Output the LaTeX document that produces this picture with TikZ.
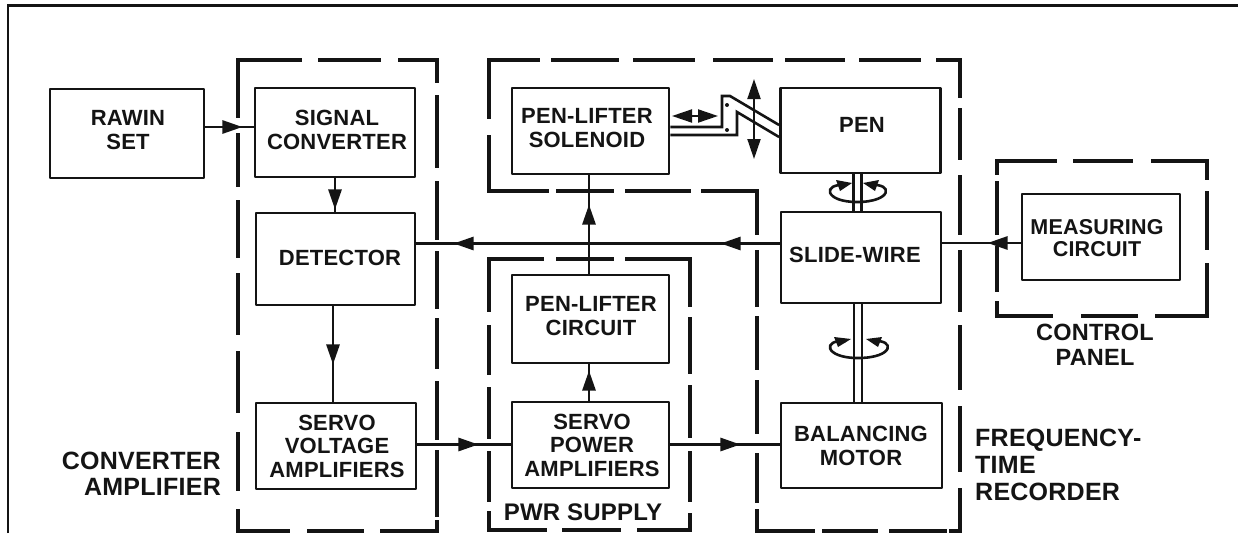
\documentclass[tikz,border=0pt]{standalone}
\usepackage{fontspec}
\setmainfont{Liberation Sans}[LetterSpace=1]
\usetikzlibrary{arrows.meta,decorations.markings}
\definecolor{ink}{HTML}{141414}
\tikzset{
  blk/.style={draw=ink,line width=2.9pt,rectangle,inner sep=0pt,line join=round},
  lbl/.style={text=ink,align=center,inner sep=0pt,font=\bfseries\fontsize{22}{23.5}\selectfont},
  dsh/.style={draw=ink,line width=3.3pt,line cap=rect},
  frm/.style={draw=ink,line width=2.4pt},
  wire/.style={draw=ink,line width=2.7pt},
  thin wire/.style={draw=ink,line width=2.6pt},
  flow/.style={wire,decoration={markings,mark=at position #1 with {\arrow{Triangle[length=20pt,width=13pt]}}},postaction={decorate}},
  flowtwo/.style 2 args={wire,decoration={markings,mark=at position #1 with {\arrow{Triangle[length=20pt,width=13pt]}},mark=at position #2 with {\arrow{Triangle[length=20pt,width=13pt]}}},postaction={decorate}},
  bothtip/.style={draw=ink,line width=2pt,{Triangle[length=20pt,width=13pt]}-{Triangle[length=20pt,width=13pt]}},
  rotsym/.style={draw=ink,line width=2.6pt},
  rottip/.style={fill=ink,draw=none},
}
\begin{document}
\begin{tikzpicture}[x=1pt,y=-1pt]
\useasboundingbox (0,0) rectangle (1238,533);
\fill[white] (0,0) rectangle (1238,533);
% outer frame
\draw[frm] (8,533) -- (8,5.5) -- (1238,5.5);
% dashed enclosures
% converter amplifier
\foreach \a/\b in {238/300,320/379,400/436} \draw[dsh] (\a,60) -- (\b,60);
\foreach \a/\b in {60/116,135/185,202/256,275/333,353/411,434/489,511/531} \draw[dsh] (238,\a) -- (238,\b);
\foreach \a/\b in {60/81,97/166,183/238,253/307,320/367,383/438,452/515,522/531} \draw[dsh] (437,\a) -- (437,\b);
\foreach \a/\b in {238/288,309/362,382/436} \draw[dsh] (\a,531) -- (\b,531);
% recorder
\foreach \a/\b in {489/538,553/617,635/693,715/771,787/843,861/919,938/960} \draw[dsh] (\a,60) -- (\b,60);
\foreach \a/\b in {60/96,110/158,177/233,252/310,327/388,408/470,490/531} \draw[dsh] (960,\a) -- (960,\b);
\foreach \a/\b in {60/117,137/191} \draw[dsh] (489,\a) -- (489,\b);
\foreach \a/\b in {489/547,558/612,627/689,703/757} \draw[dsh] (\a,191) -- (\b,191);
\foreach \a/\b in {191/233,252/305,318/368,382/432,455/501,511/531} \draw[dsh] (757,\a) -- (757,\b);
\foreach \a/\b in {757/813,824/876,891/945,951/960} \draw[dsh] (\a,531) -- (\b,531);
% pwr supply
\foreach \a/\b in {489/542,558/612,627/690} \draw[dsh] (\a,259) -- (\b,259);
\foreach \a/\b in {259/310,327/373,389/437,453/500,513/530} \draw[dsh] (489,\a) -- (489,\b);
\foreach \a/\b in {259/305,319/372,387/436,453/500,515/530} \draw[dsh] (690,\a) -- (690,\b);
\foreach \a/\b in {489/545,564/619,639/690} \draw[dsh] (\a,530) -- (\b,530);
% control panel
\foreach \a/\b in {997/1055,1075/1131,1153/1207} \draw[dsh] (\a,161) -- (\b,161);
\foreach \a/\b in {161/173,183/233,248/290,303/316} \draw[dsh] (997,\a) -- (997,\b);
\foreach \a/\b in {161/178,193/248,265/316} \draw[dsh] (1207,\a) -- (1207,\b);
\foreach \a/\b in {997/1051,1083/1136,1157/1207} \draw[dsh] (\a,316) -- (\b,316);
% blocks
\node[blk,minimum width=154pt,minimum height=89pt] (raw) at (127,133.5) {};
\node[blk,minimum width=160pt,minimum height=89pt] (sig) at (335,132.5) {};
\node[blk,minimum width=159pt,minimum height=92pt] (det) at (335.5,259) {};
\node[blk,minimum width=160pt,minimum height=86pt] (svv) at (336,446) {};
\node[blk,minimum width=157pt,minimum height=86pt] (sol) at (590.5,131) {};
\node[blk,minimum width=157pt,minimum height=88pt] (plc) at (590.5,319) {};
\node[blk,minimum width=157pt,minimum height=86pt] (svp) at (590.5,445) {};
\node[blk,minimum width=160pt,minimum height=85pt] (pen) at (860.5,130.5) {};
\node[blk,minimum width=160pt,minimum height=91pt] (sld) at (861,257.5) {};
\node[blk,minimum width=161pt,minimum height=85pt] (mot) at (861.5,445.5) {};
\node[blk,minimum width=158pt,minimum height=86pt] (mea) at (1101,237) {};
% block texts
\node[lbl] (raw-t) at (128,130) {RAWIN\\SET};
\node[lbl] (sig-t) at (337,130) {SIGNAL\\CONVERTER};
\node[lbl] (det-t) at (340,258) {DETECTOR};
\node[lbl] (svv-t) at (337,446) {SERVO\\VOLTAGE\\AMPLIFIERS};
\node[lbl] (sol-t) at (587,128) {PEN-LIFTER\\SOLENOID};
\node[lbl] (plc-t) at (591,316) {PEN-LIFTER\\CIRCUIT};
\node[lbl] (svp-t) at (592,445) {SERVO\\POWER\\AMPLIFIERS};
\node[lbl] (pen-t) at (862,125) {PEN};
\node[lbl] (sld-t) at (855,255) {SLIDE-WIRE};
\node[lbl] (mot-t) at (861,446) {BALANCING\\MOTOR};
\node[lbl,font=\bfseries\fontsize{21.5}{22.5}\selectfont] (mea-t) at (1097,238) {MEASURING\\CIRCUIT};
% region captions
\node[lbl,align=right,anchor=east,font=\bfseries\fontsize{25}{26}\selectfont] (cap-conv) at (221,474) {CONVERTER\\AMPLIFIER};
\node[lbl,align=left,anchor=west,font=\bfseries\fontsize{25}{27}\selectfont] (cap-rec) at (975,465) {FREQUENCY-\\TIME\\RECORDER};
\node[lbl,font=\bfseries\fontsize{24}{25}\selectfont] (cap-pwr) at (583,512) {PWR SUPPLY};
\node[lbl,font=\bfseries\fontsize{23.5}{24.5}\selectfont] (cap-ctl) at (1095,345) {CONTROL\\PANEL};
% connectors
\draw[flow=37pt] (raw.east |- 0,127) -- (sig.west |- 0,127);
\draw[flow=31pt] (sig.south -| 335,0) -- (det.north -| 335,0);
\draw[flow=58pt] (det.south -| 333,0) -- (svv.north -| 333,0);
\draw[flowtwo={59pt}{326pt}] (sld.west |- 0,243.5) -- (det.east |- 0,243.5);
\draw[flow=33pt] (mea.west |- 0,243) -- (sld.east |- 0,243);
\draw[flow=69pt] (plc.north -| 589,0) -- (sol.south -| 589,0);
\draw[flow=30pt] (svp.north -| 589,0) -- (plc.south -| 589,0);
\draw[flow=61pt] (svv.east |- 0,444.5) -- (svp.west |- 0,444.5);
\draw[flow=70pt] (svp.east |- 0,444.5) -- (mot.west |- 0,444.5);
% shafts
\draw[wire] (pen.south -| 853.5,0) -- (sld.north -| 853.5,0);
\draw[wire] (pen.south -| 861.5,0) -- (sld.north -| 861.5,0);
\draw[wire] (sld.south -| 854,0) -- (mot.north -| 854,0);
\draw[wire] (sld.south -| 862,0) -- (mot.north -| 862,0);
% rotation symbols
\draw[rotsym] (846,185) .. controls (822,183) and (824,202) .. (857,202) .. controls (892,202) and (894,183) .. (870,185);
\fill[rottip] (836,180) -- (852,183) -- (840,191) -- cycle;
\fill[rottip] (879,180) -- (863,183) -- (875,191) -- cycle;
\draw[rotsym] (846,341) .. controls (822,339) and (824,358) .. (858,358) .. controls (894,358) and (896,339) .. (872,341);
\fill[rottip] (834,337) -- (851,339) -- (838,347) -- cycle;
\fill[rottip] (882,337) -- (866,339) -- (878,347) -- cycle;
% solenoid linkage
\draw[thin wire,line join=miter] (sol.east |- 0,127) -- (722,127) -- (722,96) -- (730,96) -- (pen.west |- 0,125);
\draw[thin wire,line join=miter] (sol.east |- 0,135) -- (737,135) -- (737,112) -- (pen.west |- 0,137);
\fill[ink] (727,105) circle (2pt);
\fill[ink] (727,130) circle (2pt);
\coordinate (hl) at (672,116);
\coordinate (hr) at (718,116);
\coordinate (vt) at (754,79);
\coordinate (vb) at (754,159);
\draw[bothtip] (hl) -- (hr);
\draw[bothtip] (vt) -- (vb);
\end{tikzpicture}
\end{document}
